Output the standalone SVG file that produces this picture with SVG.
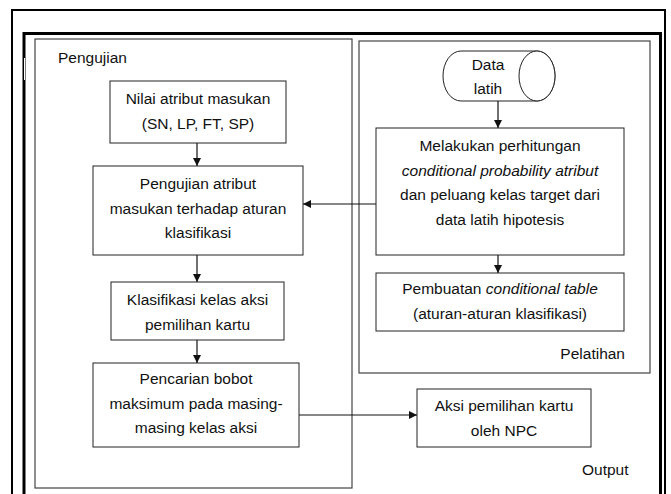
<svg xmlns="http://www.w3.org/2000/svg" width="671" height="494" viewBox="0 0 671 494">
<style>
text{font-family:"Liberation Sans",Arial,sans-serif;font-size:15.5px;fill:#111;text-anchor:middle}
.lbl{text-anchor:start}
.r{text-anchor:end}
.box{fill:#fff;stroke:#222;stroke-width:1}
.grp{fill:none;stroke:#444;stroke-width:1.2}
.edge{fill:none;stroke:#111;stroke-width:1.2}
</style>
<defs>
<marker id="ah" viewBox="0 0 10 10" refX="10" refY="5" markerWidth="8" markerHeight="8" markerUnits="userSpaceOnUse" orient="auto">
<path d="M0,0 L10,5 L0,10 Z" fill="#111"/>
</marker>
</defs>
<rect width="671" height="494" fill="#fff"/>
<g id="frame">
<path d="M12,500 V10 H665 V500" fill="none" stroke="#000" stroke-width="2"/>
<path d="M24,500 V33.5 H660.5 V500" fill="none" stroke="#000" stroke-width="3"/>
<line x1="24.5" y1="58" x2="24.5" y2="80" stroke="#fff" stroke-width="1"/>
</g>
<g id="pengujian">
<rect class="grp" x="35" y="39" width="317" height="449"/>
<text class="lbl" x="58" y="63">Pengujian</text>
</g>
<g id="pelatihan">
<rect class="grp" x="359" y="41" width="291" height="332"/>
<text class="r" x="625" y="359">Pelatihan</text>
</g>
<g id="output">
<text class="lbl" x="582" y="475">Output</text>
</g>
<g id="edges">
<line class="edge" x1="197" y1="143" x2="197" y2="166" marker-end="url(#ah)"/>
<line class="edge" x1="197" y1="255" x2="197" y2="282" marker-end="url(#ah)"/>
<line class="edge" x1="197" y1="340" x2="197" y2="363" marker-end="url(#ah)"/>
<line class="edge" x1="299" y1="415" x2="417" y2="415" marker-end="url(#ah)"/>
<line class="edge" x1="498" y1="101" x2="498" y2="128" marker-end="url(#ah)"/>
<line class="edge" x1="498" y1="255" x2="498" y2="273" marker-end="url(#ah)"/>
<line class="edge" x1="376" y1="204" x2="303" y2="204" marker-end="url(#ah)"/>
</g>
<g id="n1">
<rect class="box" x="110" y="81" width="176" height="62"/>
<text x="198" y="104">Nilai atribut masukan</text>
<text x="198" y="129">(SN, LP, FT, SP)</text>
</g>
<g id="n2">
<rect class="box" x="93" y="166" width="210" height="89"/>
<text x="198" y="189">Pengujian atribut</text>
<text x="198" y="214">masukan terhadap aturan</text>
<text x="198" y="238">klasifikasi</text>
</g>
<g id="n3">
<rect class="box" x="111" y="282" width="173" height="58"/>
<text x="197.5" y="305">Klasifikasi kelas aksi</text>
<text x="197.5" y="330">pemilihan kartu</text>
</g>
<g id="n4">
<rect class="box" x="93" y="363" width="206" height="84"/>
<text x="196" y="384">Pencarian bobot</text>
<text x="196" y="409">maksimum pada masing-</text>
<text x="196" y="433">masing kelas aksi</text>
</g>
<g id="n5">
<path class="box" d="M461,51 L537,51 A18,25 0 0 1 537,101 L461,101 A18,25 0 0 1 461,51 Z"/>
<ellipse class="box" cx="537" cy="76" rx="18" ry="25"/>
<text x="488" y="70">Data</text>
<text x="488" y="94">latih</text>
</g>
<g id="n6">
<rect class="box" x="376" y="128" width="248" height="127"/>
<text x="500" y="151">Melakukan perhitungan</text>
<text x="500" y="176" font-style="italic">conditional probability atribut</text>
<text x="500" y="200">dan peluang kelas target dari</text>
<text x="500" y="225">data latih hipotesis</text>
</g>
<g id="n7">
<rect class="box" x="376" y="273" width="248" height="58"/>
<text x="500" y="294">Pembuatan <tspan font-style="italic">conditional table</tspan></text>
<text x="500" y="319">(aturan-aturan klasifikasi)</text>
</g>
<g id="n8">
<rect class="box" x="417" y="389" width="174" height="58"/>
<text x="504" y="411">Aksi pemilihan kartu</text>
<text x="504" y="436">oleh NPC</text>
</g>
</svg>
